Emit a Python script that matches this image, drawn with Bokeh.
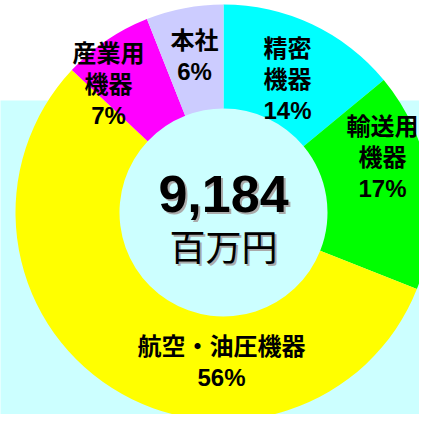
import math
from bokeh.plotting import figure
from bokeh.models import Range1d, ColumnDataSource
from bokeh.core.properties import value
from bokeh.embed import file_html
from bokeh.resources import INLINE

# ---- data ----
categories = ["精密機器", "輸送用機器", "航空・油圧機器", "産業用機器", "本社"]
shares = [14, 17, 56, 7, 6]
label_lines = [["精密", "機器"], ["輸送用", "機器"], ["航空・油圧機器"], ["産業用", "機器"], ["本社"]]
total_value = "9,184"
total_unit = "百万円"

# ---- styles / layout ----
colors = ["#00FFFF", "#00FF00", "#FFFF00", "#FF00FF", "#CCCCFF"]
W, H = 419, 414
REF_H = 422
def Y(yref):
    return REF_H - yref

cx, cy = 223, Y(212)
r_in, r_out = 104, 208
# label block anchors (x, y of first line in reference pixels) and line step
label_pos = [(287, 48), (382, 126), (221, 346), (108, 53), (194, 40)]
line_step = 31
FONT = value("Liberation Sans, Noto Sans CJK JP")

p = figure(width=W, height=H, output_backend="svg", toolbar_location=None,
           x_range=Range1d(0, W), y_range=Range1d(Y(H), Y(0)),
           min_border=0, outline_line_color=None)
p.axis.visible = False
p.grid.visible = False
p.background_fill_color = "white"
p.border_fill_color = "white"

# light cyan background panel
p.quad(left=[-10], right=[440], top=[Y(100)], bottom=[Y(440)], fill_color="#CCFFFF", line_color=None)

# donut
tot = sum(shares)
starts, ends = [], []
cum = 0
for s in shares:
    starts.append(math.pi / 2 - 2 * math.pi * cum / tot)
    cum += s
    ends.append(math.pi / 2 - 2 * math.pi * cum / tot)
src = ColumnDataSource(dict(start=starts, end=ends, color=colors, cat=categories))
p.annular_wedge(x=cx, y=cy, inner_radius=r_in, outer_radius=r_out,
                start_angle="start", end_angle="end", direction="clock",
                fill_color="color", line_color=None, source=src)

# labels
xs, ys, txt = [], [], []
for (lx, ly), lines, s in zip(label_pos, label_lines, shares):
    all_lines = lines + [f"{s}%"]
    for i, t in enumerate(all_lines):
        xs.append(lx)
        ys.append(Y(ly + i * line_step))
        txt.append(t)
p.text(x=xs, y=ys, text=txt, text_font=FONT, text_font_size="24px",
       text_font_style="bold", text_align="center", text_baseline="middle",
       text_color="black")

# center total with drop shadow
for dx, dy, col in [(2, 2, "#AAAAAA"), (0, 0, "black")]:
    p.text(x=[223 + dx], y=[Y(193 + dy)], text=[total_value], text_font=FONT,
           text_font_size="52px", text_font_style="bold", text_align="center",
           text_baseline="middle", text_color=col)
    p.text(x=[223 + dx], y=[Y(248 + dy)], text=[total_unit], text_font=FONT,
           text_font_size="36px", text_font_style="normal", text_align="center",
           text_baseline="middle", text_color=col)

open("out.html", "w").write(file_html(p, INLINE))
